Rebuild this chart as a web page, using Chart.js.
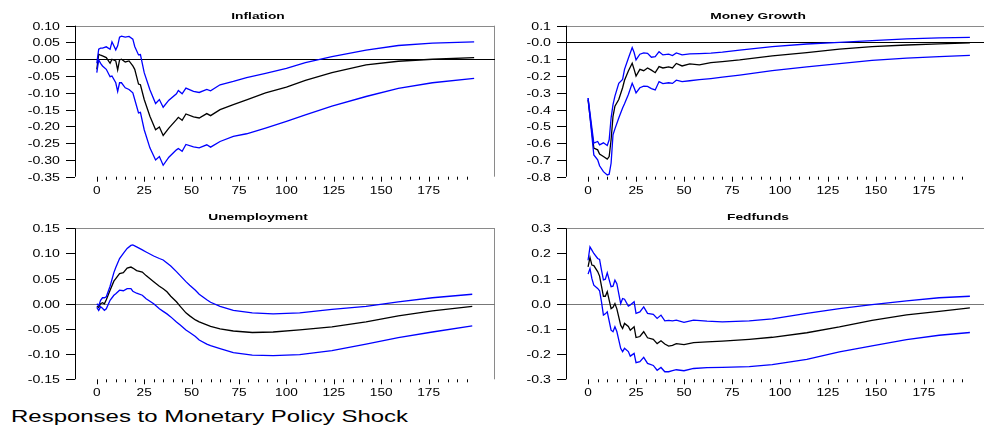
<!DOCTYPE html>
<html>
<head>
<meta charset="utf-8">
<script src="https://cdn.jsdelivr.net/npm/chart.js@4/dist/chart.umd.min.js"></script>
<style>
  html, body { margin: 0; padding: 0; background: #fff; overflow: hidden; width: 984px; height: 428px; }
  canvas { position: absolute; }
  #caption {
    position: absolute; left: 11px; top: 408px;
    font: 17px "Liberation Sans", Arial, sans-serif; line-height: 17px;
    transform: scaleX(1.41); transform-origin: left top; white-space: nowrap; color: #000;
  }
</style>
</head>
<body>
<canvas id="inf" width="530" height="200" style="left:0;top:0"></canvas>
<canvas id="mg" width="500" height="200" style="left:500px;top:0"></canvas>
<canvas id="un" width="530" height="200" style="left:0;top:200px"></canvas>
<canvas id="ff" width="500" height="200" style="left:500px;top:200px"></canvas>
<div id="caption">Responses to Monetary Policy Shock</div>
<script>
// ---- data (horizon, point estimate, upper band, lower band) ----
const infX = [0, 1, 2, 3, 5, 7, 8, 10, 11, 12, 13, 15, 17, 19, 20, 22, 23, 25, 28, 31, 33, 35, 38, 42, 43, 45, 47, 51, 54, 58, 60, 65, 72, 79, 89, 100, 110, 124, 142, 159, 177, 199];
const infMid = [-0.03, 0.015, 0.012, 0.01, 0.005, -0.012, 0.0, -0.005, -0.032, -0.002, 0.0, -0.008, -0.005, -0.02, -0.03, -0.074, -0.076, -0.12, -0.17, -0.21, -0.202, -0.227, -0.205, -0.18, -0.173, -0.182, -0.163, -0.172, -0.175, -0.162, -0.168, -0.15, -0.135, -0.121, -0.10, -0.083, -0.063, -0.04, -0.017, -0.006, 0.0, 0.005];
const infUp = [-0.012, 0.03, 0.033, 0.033, 0.037, 0.03, 0.052, 0.028, 0.04, 0.066, 0.069, 0.066, 0.068, 0.06, 0.038, 0.013, 0.014, -0.04, -0.091, -0.132, -0.12, -0.143, -0.122, -0.103, -0.093, -0.103, -0.086, -0.096, -0.099, -0.09, -0.094, -0.076, -0.066, -0.055, -0.042, -0.027, -0.01, 0.008, 0.027, 0.041, 0.048, 0.052];
const infLo = [-0.04, -0.002, -0.012, -0.02, -0.03, -0.052, -0.05, -0.07, -0.096, -0.07, -0.07, -0.085, -0.09, -0.1, -0.12, -0.16, -0.158, -0.21, -0.264, -0.3, -0.29, -0.316, -0.292, -0.27, -0.266, -0.274, -0.254, -0.261, -0.264, -0.255, -0.262, -0.245, -0.23, -0.222, -0.205, -0.185, -0.166, -0.14, -0.111, -0.087, -0.07, -0.057];

const mgX = [0, 3, 5, 6, 8, 10, 11, 12, 13, 14, 16, 18, 19, 21, 23, 24, 25, 27, 29, 31, 33, 35, 37, 39, 42, 44, 46, 49, 53, 58, 64, 70, 79, 96, 114, 131, 148, 166, 183, 199];
const mgMid = [-0.342, -0.63, -0.64, -0.665, -0.68, -0.695, -0.68, -0.58, -0.44, -0.38, -0.34, -0.27, -0.225, -0.17, -0.124, -0.16, -0.2, -0.16, -0.168, -0.152, -0.165, -0.18, -0.144, -0.152, -0.145, -0.152, -0.125, -0.14, -0.128, -0.134, -0.12, -0.114, -0.104, -0.08, -0.06, -0.04, -0.025, -0.015, -0.008, -0.002];
const mgUp = [-0.332, -0.6, -0.59, -0.61, -0.598, -0.614, -0.58, -0.45, -0.37, -0.32, -0.243, -0.22, -0.16, -0.094, -0.03, -0.06, -0.104, -0.07, -0.062, -0.065, -0.088, -0.084, -0.055, -0.074, -0.07, -0.078, -0.062, -0.074, -0.068, -0.066, -0.064, -0.058, -0.045, -0.025, -0.009, 0.001, 0.011, 0.021, 0.027, 0.03];
const mgLo = [-0.332, -0.67, -0.7, -0.735, -0.77, -0.79, -0.785, -0.72, -0.55, -0.515, -0.45, -0.39, -0.365, -0.31, -0.243, -0.27, -0.3, -0.27, -0.26, -0.262, -0.275, -0.283, -0.233, -0.245, -0.24, -0.244, -0.225, -0.233, -0.228, -0.222, -0.215, -0.207, -0.194, -0.168, -0.146, -0.126, -0.107, -0.093, -0.084, -0.077];

const unX = [0, 1, 2, 3, 4, 5, 7, 9, 10, 12, 14, 16, 18, 19, 21, 24, 26, 30, 33, 35, 37, 39, 42, 44, 47, 49, 52, 54, 58, 60, 65, 72, 82, 93, 107, 124, 142, 159, 177, 198];
const unMid = [-0.005, -0.007, 0.0, 0.002, 0.0, 0.008, 0.027, 0.045, 0.05, 0.06, 0.062, 0.071, 0.073, 0.071, 0.066, 0.063, 0.056, 0.044, 0.035, 0.03, 0.024, 0.015, 0.004, -0.005, -0.018, -0.024, -0.032, -0.036, -0.042, -0.045, -0.05, -0.054, -0.057, -0.056, -0.052, -0.046, -0.036, -0.024, -0.014, -0.005];
const unUp = [0.0, -0.004, 0.007, 0.012, 0.012, 0.014, 0.035, 0.062, 0.072, 0.09, 0.1, 0.11, 0.116, 0.117, 0.113, 0.107, 0.103, 0.095, 0.09, 0.087, 0.081, 0.075, 0.064, 0.056, 0.044, 0.037, 0.027, 0.019, 0.008, 0.003, -0.005, -0.013, -0.018, -0.02, -0.018, -0.011, -0.005, 0.004, 0.012, 0.019];
const unLo = [-0.007, -0.013, -0.006, -0.009, -0.013, -0.01, 0.007, 0.017, 0.02, 0.027, 0.026, 0.03, 0.03, 0.025, 0.021, 0.017, 0.01, 0.0, -0.01, -0.015, -0.02, -0.026, -0.036, -0.042, -0.052, -0.057, -0.065, -0.072, -0.08, -0.083, -0.089, -0.097, -0.102, -0.103, -0.101, -0.093, -0.08, -0.067, -0.056, -0.044];

const ffX = [0, 1, 2, 3, 5, 6, 7, 8, 9, 10, 12, 13, 14, 15, 17, 18, 19, 21, 22, 24, 25, 27, 29, 31, 34, 36, 38, 40, 42, 44, 46, 50, 55, 62, 70, 84, 96, 114, 131, 148, 166, 183, 199];
const ffMid = [0.147, 0.184, 0.154, 0.152, 0.128, 0.11, 0.07, 0.03, 0.03, 0.048, -0.019, -0.014, 0.001, -0.02, -0.085, -0.098, -0.078, -0.09, -0.105, -0.091, -0.134, -0.13, -0.111, -0.135, -0.141, -0.158, -0.147, -0.16, -0.168, -0.165, -0.158, -0.162, -0.154, -0.151, -0.148, -0.141, -0.133, -0.115, -0.092, -0.066, -0.044, -0.03, -0.016];
const ffUp = [0.173, 0.226, 0.213, 0.2, 0.18, 0.176, 0.134, 0.095, 0.098, 0.123, 0.068, 0.07, 0.094, 0.08, 0.001, 0.021, 0.018, -0.009, -0.005, 0.008, -0.038, -0.032, -0.012, -0.038, -0.042, -0.058, -0.045, -0.068, -0.066, -0.068, -0.065, -0.074, -0.065, -0.069, -0.072, -0.068, -0.06, -0.038, -0.019, -0.003, 0.012, 0.024, 0.03];
const ffLo = [0.118, 0.14, 0.1, 0.074, 0.061, 0.052, 0.008, -0.045, -0.04, -0.032, -0.105, -0.111, -0.091, -0.11, -0.177, -0.19, -0.177, -0.19, -0.208, -0.197, -0.234, -0.23, -0.213, -0.237, -0.245, -0.264, -0.253, -0.27, -0.27, -0.266, -0.262, -0.266, -0.257, -0.254, -0.253, -0.25, -0.242, -0.221, -0.191, -0.167, -0.142, -0.125, -0.114];

// ---- axis ticks ----
const xLabels = [0, 25, 50, 75, 100, 125, 150, 175];
const infTicks = [0.10, 0.05, 0.00, -0.05, -0.10, -0.15, -0.20, -0.25, -0.30, -0.35];
const infTickLabels = ["0.10", "0.05", "-0.00", "-0.05", "-0.10", "-0.15", "-0.20", "-0.25", "-0.30", "-0.35"];
const mgTicks = [0.1, 0.0, -0.1, -0.2, -0.3, -0.4, -0.5, -0.6, -0.7, -0.8];
const mgTickLabels = ["0.1", "-0.0", "-0.1", "-0.2", "-0.3", "-0.4", "-0.5", "-0.6", "-0.7", "-0.8"];
const unTicks = [0.15, 0.10, 0.05, 0.00, -0.05, -0.10, -0.15];
const unTickLabels = ["0.15", "0.10", "0.05", "0.00", "-0.05", "-0.10", "-0.15"];
const ffTicks = [0.3, 0.2, 0.1, 0.0, -0.1, -0.2, -0.3];
const ffTickLabels = ["0.3", "0.2", "0.1", "0.0", "-0.1", "-0.2", "-0.3"];

const FONT = '"Liberation Sans", Arial, sans-serif';

// text drawn a bit wider than the font, like the original export
function wideText(ctx, s, x, y, sx, align) {
  ctx.save();
  ctx.translate(x, y);
  ctx.scale(sx, 1);
  ctx.textAlign = align;
  ctx.fillText(s, 0, 0);
  ctx.restore();
}

const framePlugin = {
  id: "frame",
  beforeDatasetsDraw(chart, args, o) {
    const ctx = chart.ctx, a = chart.chartArea;
    const ys = chart.scales.y;
    ctx.save();
    ctx.lineWidth = 1;
    // top and right border
    ctx.strokeStyle = "#8a8a8a";
    ctx.beginPath();
    ctx.moveTo(a.left, Math.round(a.top) + 0.5);
    ctx.lineTo(a.right, Math.round(a.top) + 0.5);
    ctx.moveTo(Math.round(a.right) - 0.5, a.top);
    ctx.lineTo(Math.round(a.right) - 0.5, a.bottom);
    ctx.stroke();
    // zero line
    const z = Math.round(ys.getPixelForValue(0)) + 0.5;
    ctx.strokeStyle = o.zeroColor;
    ctx.beginPath();
    ctx.moveTo(a.left, z);
    ctx.lineTo(a.right, z);
    ctx.stroke();
    ctx.restore();
  },
  afterDraw(chart, args, o) {
    const ctx = chart.ctx, a = chart.chartArea;
    const xs = chart.scales.x, ys = chart.scales.y;
    ctx.save();
    ctx.lineWidth = 1;
    ctx.strokeStyle = "#000";
    ctx.fillStyle = "#000";
    // y axis line
    const ax = Math.round(a.left) + 0.5;
    ctx.beginPath();
    ctx.moveTo(ax, a.top);
    ctx.lineTo(ax, a.bottom);
    ctx.stroke();
    // y ticks and labels
    ctx.font = "10.5px " + FONT;
    ctx.textBaseline = "middle";
    o.yTicks.forEach((v, i) => {
      const py = Math.round(ys.getPixelForValue(v)) + 0.5;
      ctx.beginPath();
      ctx.moveTo(a.left - 9, py);
      ctx.lineTo(a.left, py);
      ctx.stroke();
      wideText(ctx, o.yLabels[i], a.left - 15, py + 0.5, 1.35, "right");
    });
    // x ticks (minor every 5, major every 25)
    for (let v = 0; v <= 195; v += 5) {
      const px = Math.round(xs.getPixelForValue(v)) + 0.5;
      ctx.beginPath();
      ctx.moveTo(px, a.bottom);
      ctx.lineTo(px, a.bottom + (v % 25 === 0 ? 5 : 3));
      ctx.stroke();
    }
    xLabels.forEach(v => {
      wideText(ctx, String(v), xs.getPixelForValue(v), a.bottom + 14, 1.3, "center");
    });
    // panel title
    ctx.font = "bold 9.5px " + FONT;
    wideText(ctx, o.title, o.titleX, o.titleY, 1.45, "center");
    ctx.restore();
  }
};

function makePanel(id, title, xs, mid, up, lo, yMin, yMax, ticks, labels, pad, titleX, titleY, zeroColor) {
  const pts = arr => arr.map((v, i) => ({ x: xs[i], y: v }));
  const line = (arr, color) => ({
    data: pts(arr), borderColor: color, borderWidth: 1.3,
    pointRadius: 0, fill: false, tension: 0
  });
  return new Chart(document.getElementById(id), {
    type: "line",
    data: { datasets: [line(up, "#0000ff"), line(lo, "#0000ff"), line(mid, "#000000")] },
    options: {
      responsive: false,
      animation: false,
      layout: { padding: pad },
      plugins: {
        legend: { display: false },
        tooltip: { enabled: false },
        frame: { title: title, titleX: titleX, titleY: titleY, yTicks: ticks, yLabels: labels, zeroColor: zeroColor }
      },
      scales: {
        x: { type: "linear", min: -11.5, max: 210, display: false },
        y: { type: "linear", min: yMin, max: yMax, display: false }
      }
    },
    plugins: [framePlugin]
  });
}

const padTL = { left: 75, top: 25.7, right: 35, bottom: 23.3 };
const padTR = { left: 66, top: 25.7, right: 9, bottom: 23.3 };
const padBL = { left: 75, top: 28.3, right: 35, bottom: 20.7 };
const padBR = { left: 66, top: 28.3, right: 9, bottom: 20.7 };

makePanel("inf", "Inflation", infX, infMid, infUp, infLo, -0.35, 0.10, infTicks, infTickLabels, padTL, 258, 16, "#000");
makePanel("mg", "Money Growth", mgX, mgMid, mgUp, mgLo, -0.8, 0.1, mgTicks, mgTickLabels, padTR, 258, 16, "#000");
makePanel("un", "Unemployment", unX, unMid, unUp, unLo, -0.15, 0.15, unTicks, unTickLabels, padBL, 258, 17, "#777");
makePanel("ff", "Fedfunds", ffX, ffMid, ffUp, ffLo, -0.3, 0.3, ffTicks, ffTickLabels, padBR, 258, 17, "#777");
</script>
</body>
</html>
